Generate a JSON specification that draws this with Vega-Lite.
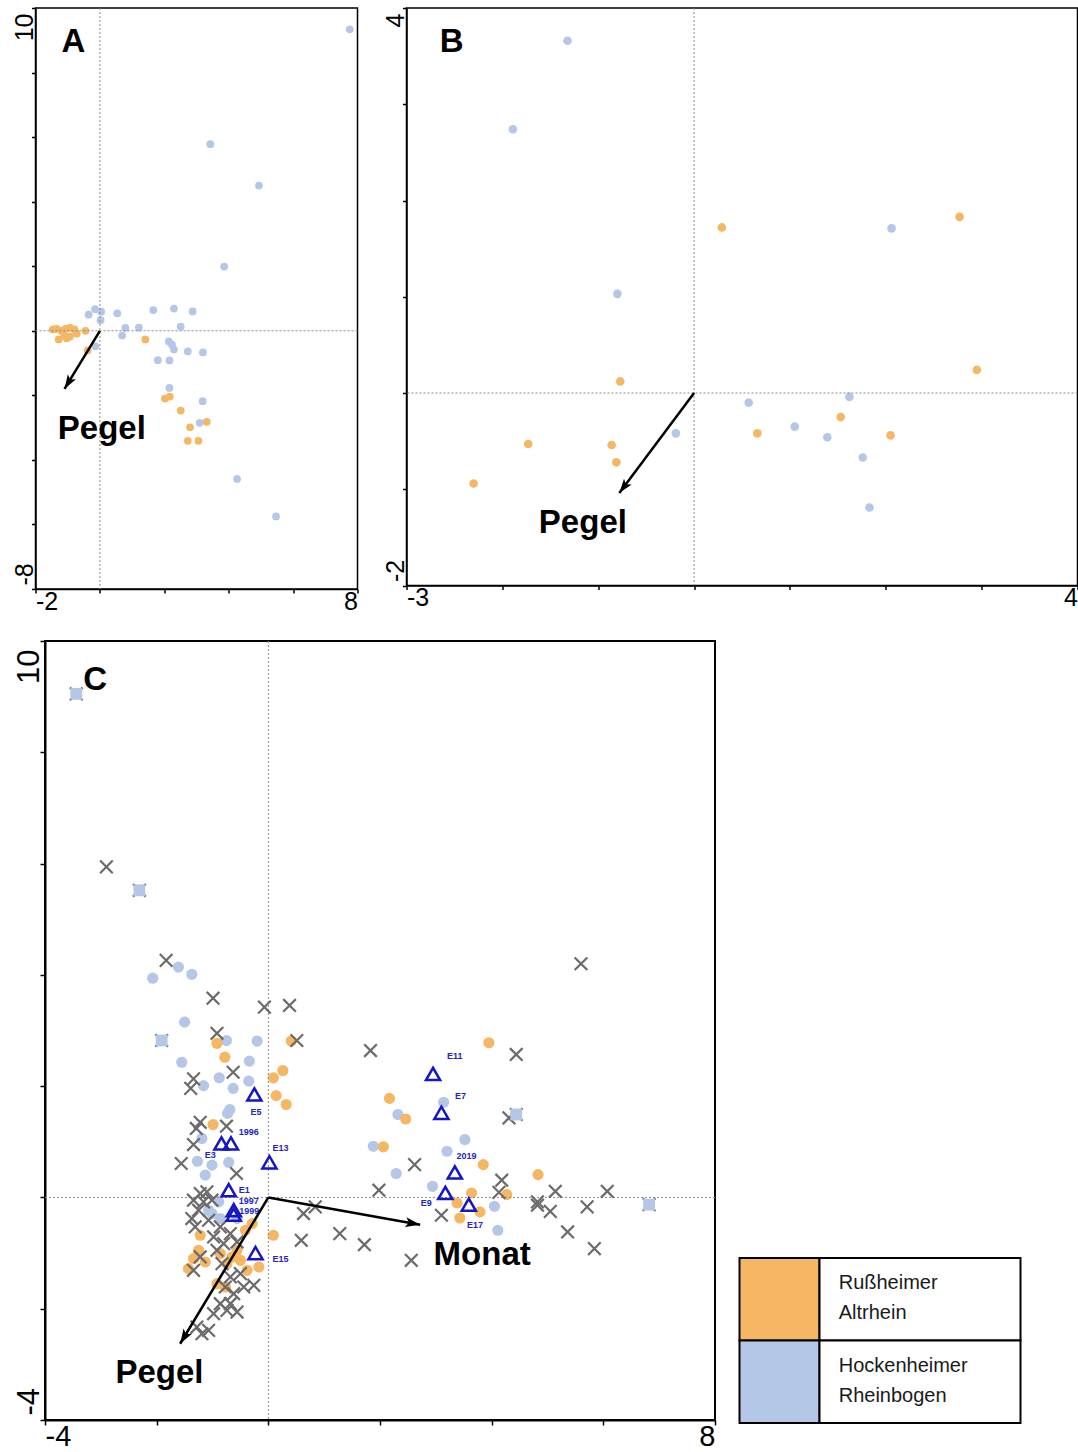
{
  "$schema": "https://vega.github.io/schema/vega-lite/v6.json",
  "padding": {"left": -12.5, "top": 6, "right": 0, "bottom": 0},
  "background": "white",
  "config": {
    "font": "Liberation Sans",
    "view": {"stroke": "black", "strokeWidth": 1.5},
    "axis": {"grid": false, "domainColor": "black", "domainWidth": 1.5, "tickColor": "black", "tickWidth": 1.5, "labelColor": "black", "labelFont": "Liberation Sans", "labelOverlap": false, "labelBound": false}
  },
  "datasets": {
    "A": [
      {"x":7.76,"y":9.34,"s":"H"},{"x":3.43,"y":5.78,"s":"H"},{"x":4.94,"y":4.5,"s":"H"},{"x":3.86,"y":1.99,"s":"H"},{"x":-0.15,"y":0.67,"s":"H"},{"x":-0.35,"y":0.5,"s":"H"},{"x":0.04,"y":0.59,"s":"H"},{"x":0.02,"y":0.33,"s":"H"},{"x":0.54,"y":0.54,"s":"H"},{"x":0.79,"y":0.09,"s":"H"},{"x":0.69,"y":-0.15,"s":"H"},{"x":1.21,"y":0.1,"s":"H"},{"x":1.66,"y":0.64,"s":"H"},{"x":2.3,"y":0.69,"s":"H"},{"x":2.88,"y":0.6,"s":"H"},{"x":2.51,"y":0.13,"s":"H"},{"x":2.14,"y":-0.33,"s":"H"},{"x":2.24,"y":-0.43,"s":"H"},{"x":2.3,"y":-0.58,"s":"H"},{"x":2.73,"y":-0.64,"s":"H"},{"x":3.2,"y":-0.67,"s":"H"},{"x":1.8,"y":-0.91,"s":"H"},{"x":2.16,"y":-0.92,"s":"H"},{"x":2.16,"y":-1.77,"s":"H"},{"x":3.19,"y":-2.18,"s":"H"},{"x":3.1,"y":-2.85,"s":"H"},{"x":4.26,"y":-4.59,"s":"H"},{"x":5.47,"y":-5.75,"s":"H"},{"x":-0.14,"y":-0.48,"s":"H"},
      {"x":-1.46,"y":0.04,"s":"R"},{"x":-1.34,"y":0.06,"s":"R"},{"x":-1.2,"y":0.0,"s":"R"},{"x":-1.07,"y":0.06,"s":"R"},{"x":-0.93,"y":0.09,"s":"R"},{"x":-0.79,"y":0.04,"s":"R"},{"x":-0.72,"y":-0.09,"s":"R"},{"x":-0.93,"y":-0.18,"s":"R"},{"x":-1.1,"y":-0.15,"s":"R"},{"x":-1.28,"y":-0.27,"s":"R"},{"x":-1.03,"y":-0.23,"s":"R"},{"x":-0.45,"y":0.0,"s":"R"},{"x":-0.38,"y":-0.61,"s":"R"},{"x":1.41,"y":-0.27,"s":"R"},{"x":2.02,"y":-2.1,"s":"R"},{"x":2.17,"y":-2.04,"s":"R"},{"x":2.51,"y":-2.47,"s":"R"},{"x":2.8,"y":-2.99,"s":"R"},{"x":3.32,"y":-2.82,"s":"R"},{"x":2.73,"y":-3.41,"s":"R"},{"x":3.06,"y":-3.41,"s":"R"}
    ],
    "B": [
      {"x":-1.32,"y":3.66,"s":"H"},{"x":-1.89,"y":2.74,"s":"H"},{"x":-0.8,"y":1.03,"s":"H"},{"x":-0.19,"y":-0.42,"s":"H"},{"x":0.57,"y":-0.1,"s":"H"},{"x":1.05,"y":-0.35,"s":"H"},{"x":1.39,"y":-0.46,"s":"H"},{"x":1.62,"y":-0.04,"s":"H"},{"x":1.76,"y":-0.67,"s":"H"},{"x":1.83,"y":-1.19,"s":"H"},{"x":2.06,"y":1.71,"s":"H"},
      {"x":0.29,"y":1.72,"s":"R"},{"x":2.77,"y":1.83,"s":"R"},{"x":2.95,"y":0.24,"s":"R"},{"x":-0.77,"y":0.12,"s":"R"},{"x":-1.73,"y":-0.53,"s":"R"},{"x":-0.86,"y":-0.54,"s":"R"},{"x":-0.81,"y":-0.72,"s":"R"},{"x":-2.3,"y":-0.94,"s":"R"},{"x":0.66,"y":-0.42,"s":"R"},{"x":1.53,"y":-0.25,"s":"R"},{"x":2.05,"y":-0.44,"s":"R"}
    ],
    "Csites": [
      {"x":-1.61,"y":4.14,"s":"H"},{"x":-2.07,"y":3.94,"s":"H"},{"x":-1.37,"y":4.01,"s":"H"},{"x":-1.5,"y":3.15,"s":"H"},{"x":-0.75,"y":2.82,"s":"H"},{"x":-0.2,"y":2.81,"s":"H"},{"x":-1.55,"y":2.43,"s":"H"},{"x":-0.34,"y":2.45,"s":"H"},{"x":-0.88,"y":2.15,"s":"H"},{"x":-1.16,"y":2.01,"s":"H"},{"x":-0.63,"y":1.96,"s":"H"},{"x":-0.35,"y":2.09,"s":"H"},{"x":-0.69,"y":1.58,"s":"H"},{"x":-0.73,"y":1.51,"s":"H"},{"x":-1.19,"y":1.06,"s":"H"},{"x":-1.27,"y":0.65,"s":"H"},{"x":-1.01,"y":0.58,"s":"H"},{"x":-0.71,"y":0.63,"s":"H"},{"x":-1.13,"y":0.4,"s":"H"},{"x":-0.89,"y":-0.08,"s":"H"},{"x":-1.01,"y":-0.29,"s":"H"},{"x":-0.86,"y":-0.38,"s":"H"},{"x":-1.07,"y":-0.23,"s":"H"},{"x":-0.56,"y":-0.38,"s":"H"},
      {"x":3.14,"y":1.71,"s":"H"},{"x":2.32,"y":1.49,"s":"H"},{"x":3.52,"y":1.04,"s":"H"},{"x":1.88,"y":0.92,"s":"H"},{"x":3.2,"y":0.83,"s":"H"},{"x":2.29,"y":0.43,"s":"H"},{"x":2.94,"y":0.2,"s":"H"},{"x":4.05,"y":-0.16,"s":"H"},{"x":4.11,"y":-0.59,"s":"H"},
      {"x":-0.92,"y":2.77,"s":"R"},{"x":0.41,"y":2.81,"s":"R"},{"x":-0.78,"y":2.52,"s":"R"},{"x":0.26,"y":2.28,"s":"R"},{"x":0.09,"y":2.15,"s":"R"},{"x":0.14,"y":1.83,"s":"R"},{"x":0.32,"y":1.67,"s":"R"},{"x":-0.99,"y":1.31,"s":"R"},
      {"x":-1.22,"y":-0.68,"s":"R"},{"x":-1.25,"y":-0.95,"s":"R"},{"x":-1.34,"y":-1.1,"s":"R"},{"x":-1.13,"y":-1.16,"s":"R"},{"x":-1.43,"y":-1.28,"s":"R"},{"x":-0.86,"y":-1.01,"s":"R"},{"x":-0.92,"y":-1.55,"s":"R"},{"x":-0.77,"y":-1.61,"s":"R"},{"x":-0.5,"y":-1.13,"s":"R"},{"x":-0.38,"y":-1.31,"s":"R"},{"x":-0.41,"y":-0.59,"s":"R"},{"x":-0.29,"y":-0.47,"s":"R"},{"x":0.09,"y":-0.68,"s":"R"},{"x":-0.17,"y":-1.25,"s":"R"},{"x":-0.65,"y":-1.07,"s":"R"},{"x":-0.56,"y":-0.95,"s":"R"},{"x":-0.74,"y":-1.19,"s":"R"},
      {"x":3.95,"y":2.78,"s":"R"},{"x":2.17,"y":1.78,"s":"R"},{"x":2.46,"y":1.41,"s":"R"},{"x":2.06,"y":0.91,"s":"R"},{"x":3.85,"y":0.59,"s":"R"},{"x":4.83,"y":0.41,"s":"R"},{"x":3.64,"y":0.08,"s":"R"},{"x":4.27,"y":0.05,"s":"R"},{"x":3.38,"y":-0.1,"s":"R"},{"x":3.79,"y":-0.26,"s":"R"},{"x":3.43,"y":-0.37,"s":"R"}
    ],
    "Csquares": [
      {"x":-3.44,"y":9.05,"s":"H"},{"x":-2.31,"y":5.52,"s":"H"},{"x":-1.91,"y":2.82,"s":"H"},{"x":4.44,"y":1.49,"s":"H"},{"x":6.82,"y":-0.13,"s":"H"}
    ],
    "Cspecies": [
      {"x":-2.9,"y":5.94},{"x":-1.83,"y":4.26},{"x":-0.99,"y":3.58},{"x":-0.07,"y":3.42},{"x":0.38,"y":3.45},{"x":-1.91,"y":2.82},{"x":-0.92,"y":2.95},{"x":0.51,"y":2.82},{"x":-0.63,"y":2.25},{"x":-1.34,"y":2.13},{"x":-1.39,"y":1.96},{"x":-1.22,"y":1.35},{"x":-1.29,"y":1.24},{"x":-0.75,"y":1.28},{"x":-1.34,"y":0.95},{"x":-1.56,"y":0.61},{"x":-0.57,"y":0.43},
      {"x":-1.22,"y":0.07},{"x":-1.1,"y":0.1},{"x":-1.34,"y":-0.05},{"x":-1.16,"y":-0.08},{"x":-1.01,"y":-0.05},{"x":-1.25,"y":-0.23},{"x":-1.37,"y":-0.38},{"x":-1.07,"y":-0.41},{"x":-1.31,"y":-0.53},{"x":-0.86,"y":-0.53},{"x":-0.98,"y":-0.71},{"x":-0.68,"y":-0.65},{"x":-0.8,"y":-0.83},{"x":-0.56,"y":-0.8},{"x":-0.92,"y":-0.95},{"x":-1.22,"y":-1.07},{"x":-1.34,"y":-1.31},{"x":-0.83,"y":-1.19},{"x":-0.68,"y":-1.43},{"x":-0.5,"y":-1.37},{"x":-0.44,"y":-1.61},{"x":-0.77,"y":-1.61},{"x":-0.62,"y":-1.73},{"x":-0.26,"y":-1.58},{"x":-0.86,"y":-1.91},{"x":-0.68,"y":-1.91},{"x":-0.56,"y":-2.06},{"x":-0.98,"y":-2.09},{"x":-0.74,"y":-2.03},{"x":-1.28,"y":-2.33},{"x":-1.07,"y":-2.39},{"x":-1.19,"y":-2.45},
      {"x":0.63,"y":-0.29},{"x":0.84,"y":-0.17},{"x":0.59,"y":-0.77},{"x":1.28,"y":-0.65},{"x":1.72,"y":-0.85},
      {"x":1.83,"y":2.64},{"x":4.44,"y":2.57},{"x":4.31,"y":1.43},{"x":2.62,"y":0.59},{"x":4.18,"y":0.31},{"x":1.98,"y":0.13},{"x":4.13,"y":0.09},{"x":5.14,"y":0.11},{"x":6.07,"y":0.11},{"x":4.82,"y":-0.08},{"x":4.82,"y":-0.14},{"x":5.05,"y":-0.25},{"x":5.71,"y":-0.17},{"x":6.82,"y":-0.13},{"x":3.1,"y":-0.32},{"x":5.36,"y":-0.62},{"x":5.84,"y":-0.92},{"x":2.56,"y":-1.13},{"x":5.6,"y":4.2},{"x":-3.44,"y":9.05},{"x":-2.31,"y":5.52},{"x":4.44,"y":1.49}
    ],
    "Cenv": [
      {"name":"E5","x":-0.25,"y":1.85},{"name":"E3","x":-0.84,"y":0.97},{"name":"1996","x":-0.67,"y":0.97},{"name":"E13","x":0.02,"y":0.63},{"name":"E1","x":-0.71,"y":0.13},{"name":"1997","x":-0.62,"y":-0.23},{"name":"1999","x":-0.62,"y":-0.31},{"name":"E15","x":-0.23,"y":-1.0},{"name":"E11","x":2.95,"y":2.22},{"name":"E7","x":3.1,"y":1.52},{"name":"2019","x":3.34,"y":0.45},{"name":"E9","x":3.17,"y":0.08},{"name":"E17","x":3.59,"y":-0.13}
    ],
    "Cenvlab": [
      {"name":"E5","x":-0.22,"y":1.53},{"name":"E3","x":-1.04,"y":0.77},{"name":"1996","x":-0.35,"y":1.17},{"name":"E13","x":0.22,"y":0.89},{"name":"E1","x":-0.43,"y":0.13},{"name":"1997","x":-0.35,"y":-0.07},{"name":"1999","x":-0.34,"y":-0.25},{"name":"E15","x":0.22,"y":-1.1},{"name":"E11","x":3.34,"y":2.55},{"name":"E7","x":3.44,"y":1.83},{"name":"2019","x":3.55,"y":0.74},{"name":"E9","x":2.83,"y":-0.1},{"name":"E17","x":3.7,"y":-0.5}
    ],
    "vectors": [
      {"p":"A","name":"Pegel","x":-1.1,"y":-1.8},{"p":"B","name":"Pegel","x":-0.78,"y":-1.04},{"p":"C","name":"Pegel","x":-1.58,"y":-2.63},{"p":"C","name":"Monat","x":2.72,"y":-0.49}
    ],
    "texts": [
      {"p":"A","t":"A","x":-0.82,"y":8.65},{"p":"A","t":"Pegel","x":0.06,"y":-3.34},{"p":"B","t":"B","x":-2.53,"y":3.54},{"p":"B","t":"Pegel","x":-1.16,"y":-1.45},{"p":"C","t":"C","x":-3.1,"y":9.12},{"p":"C","t":"Pegel","x":-1.95,"y":-3.34},{"p":"C","t":"Monat","x":3.83,"y":-1.21}
    ],
    "legend": [
      {"s":"R","label":"Rußheimer Altrhein"},{"s":"H","label":"Hockenheimer Rheinbogen"}
    ]
  },
  "spacing": 24,
  "vconcat": [
    {
      "spacing": 23,
      "hconcat": [
        {"width": 1, "height": 1, "data": {"values": [{"z": 0}]}, "mark": {"type": "point", "opacity": 0, "size": 0, "strokeWidth": 0}, "encoding": {}, "view": {"stroke": null}},
        {
          "width": 322, "height": 581,
          "layer": [
            {"data": {"name": "A"}, "mark": {"type": "circle", "size": 60, "opacity": 1},
             "encoding": {
               "x": {"field": "x", "type": "quantitative", "title": null, "scale": {"domain": [-2, 8], "nice": false, "zero": false},
                     "axis": {"values": [-2, 0, 2, 4, 6, 8], "labelExpr": "datum.value == -2 || datum.value == 8 ? '' + datum.value : ''", "labelFontSize": 25, "tickSize": 4, "labelPadding": -4, "labelBaseline": "top", "labelFlush": true}},
               "y": {"field": "y", "type": "quantitative", "title": null, "scale": {"domain": [-8, 10], "nice": false, "zero": false},
                     "axis": {"values": [-8, -6, -4, -2, 0, 2, 4, 6, 8, 10], "labelExpr": "datum.value == -8 || datum.value == 10 ? '' + datum.value : ''", "labelAngle": 270, "labelFontSize": 25, "tickSize": 4, "labelPadding": -1, "labelBaseline": "alphabetic", "labelFlush": false,
                              "labelAlign": {"condition": {"test": "datum.value == 10", "value": "right"}, "value": "left"},
                              "labelOffset": {"condition": {"test": "datum.value == 10", "value": 5}, "value": -4}}},
               "color": {"field": "s", "type": "nominal", "scale": {"domain": ["R", "H"], "range": ["#F5B764", "#B4C7E7"]}, "legend": null}
             }},
            {"data": {"values": [{"z": 0}]}, "mark": {"type": "rule", "color": "#8a8a8a", "strokeDash": [2, 2], "strokeWidth": 1}, "encoding": {"x": {"field": "z", "type": "quantitative", "title": null}}},
            {"data": {"values": [{"z": 0}]}, "mark": {"type": "rule", "color": "#8a8a8a", "strokeDash": [2, 2], "strokeWidth": 1}, "encoding": {"y": {"field": "z", "type": "quantitative", "title": null}}},
            {"data": {"name": "vectors"}, "transform": [{"filter": "datum.p == 'A'"}], "mark": {"type": "rule", "color": "black", "strokeWidth": 2.5},
             "encoding": {"x": {"field": "x", "type": "quantitative", "title": null}, "y": {"field": "y", "type": "quantitative", "title": null}, "x2": {"datum": 0}, "y2": {"datum": 0}}},
            {"data": {"name": "vectors"}, "transform": [{"filter": "datum.p == 'A'"}], "mark": {"type": "point", "shape": "M0,0L-0.6,1.8L0,1.4L0.6,1.8Z", "filled": true, "color": "black", "opacity": 1, "size": 250, "angle": 211.4},
             "encoding": {"x": {"field": "x", "type": "quantitative", "title": null}, "y": {"field": "y", "type": "quantitative", "title": null}}},
            {"data": {"name": "texts"}, "transform": [{"filter": "datum.p == 'A'"}], "mark": {"type": "text", "fontSize": 33, "fontWeight": "bold", "align": "center", "baseline": "alphabetic", "color": "black"},
             "encoding": {"x": {"field": "x", "type": "quantitative", "title": null}, "y": {"field": "y", "type": "quantitative", "title": null}, "text": {"field": "t", "type": "nominal"}}}
          ]
        },
        {
          "width": 671, "height": 577.5,
          "layer": [
            {"data": {"name": "B"}, "mark": {"type": "circle", "size": 75, "opacity": 1},
             "encoding": {
               "x": {"field": "x", "type": "quantitative", "title": null, "scale": {"domain": [-3, 4], "nice": false, "zero": false},
                     "axis": {"values": [-3, -2, -1, 0, 1, 2, 3, 4], "labelExpr": "datum.value == -3 || datum.value == 4 ? '' + datum.value : ''", "labelFontSize": 25, "tickSize": 4, "labelPadding": -4, "labelBaseline": "top", "labelFlush": true}},
               "y": {"field": "y", "type": "quantitative", "title": null, "scale": {"domain": [-2, 4], "nice": false, "zero": false},
                     "axis": {"values": [-2, -1, 0, 1, 2, 3, 4], "labelExpr": "datum.value == -2 || datum.value == 4 ? '' + datum.value : ''", "labelAngle": 270, "labelFontSize": 25, "tickSize": 4, "labelPadding": -1, "labelBaseline": "alphabetic", "labelFlush": false,
                              "labelAlign": {"condition": {"test": "datum.value == 4", "value": "right"}, "value": "left"},
                              "labelOffset": {"condition": {"test": "datum.value == 4", "value": 5}, "value": -4}}},
               "color": {"field": "s", "type": "nominal", "scale": {"domain": ["R", "H"], "range": ["#F5B764", "#B4C7E7"]}, "legend": null}
             }},
            {"data": {"values": [{"z": 0}]}, "mark": {"type": "rule", "color": "#8a8a8a", "strokeDash": [2, 2], "strokeWidth": 1}, "encoding": {"x": {"field": "z", "type": "quantitative", "title": null}}},
            {"data": {"values": [{"z": 0}]}, "mark": {"type": "rule", "color": "#8a8a8a", "strokeDash": [2, 2], "strokeWidth": 1}, "encoding": {"y": {"field": "z", "type": "quantitative", "title": null}}},
            {"data": {"name": "vectors"}, "transform": [{"filter": "datum.p == 'B'"}], "mark": {"type": "rule", "color": "black", "strokeWidth": 2.5},
             "encoding": {"x": {"field": "x", "type": "quantitative", "title": null}, "y": {"field": "y", "type": "quantitative", "title": null}, "x2": {"datum": 0}, "y2": {"datum": 0}}},
            {"data": {"name": "vectors"}, "transform": [{"filter": "datum.p == 'B'"}], "mark": {"type": "point", "shape": "M0,0L-0.6,1.8L0,1.4L0.6,1.8Z", "filled": true, "color": "black", "opacity": 1, "size": 250, "angle": 216.8},
             "encoding": {"x": {"field": "x", "type": "quantitative", "title": null}, "y": {"field": "y", "type": "quantitative", "title": null}}},
            {"data": {"name": "texts"}, "transform": [{"filter": "datum.p == 'B'"}], "mark": {"type": "text", "fontSize": 33, "fontWeight": "bold", "align": "center", "baseline": "alphabetic", "color": "black"},
             "encoding": {"x": {"field": "x", "type": "quantitative", "title": null}, "y": {"field": "y", "type": "quantitative", "title": null}, "text": {"field": "t", "type": "nominal"}}}
          ]
        }
      ]
    },
    {
      "spacing": 21.5,
      "hconcat": [
        {"width": 3, "height": 1, "data": {"values": [{"z": 0}]}, "mark": {"type": "point", "opacity": 0, "size": 0, "strokeWidth": 0}, "encoding": {}, "view": {"stroke": null}},
        {
          "width": 670, "height": 779,
          "view": {"stroke": "black", "strokeWidth": 2},
          "layer": [
            {"data": {"name": "Csites"}, "mark": {"type": "circle", "size": 125, "opacity": 1},
             "encoding": {
               "x": {"field": "x", "type": "quantitative", "title": null, "scale": {"domain": [-4, 8], "nice": false, "zero": false},
                     "axis": {"values": [-4, -2, 0, 2, 4, 6, 8], "labelExpr": "datum.value == -4 || datum.value == 8 ? '' + datum.value : ''", "labelFontSize": 29, "tickSize": 5, "labelPadding": -3, "labelBaseline": "top", "labelFlush": true, "domainWidth": 2}},
               "y": {"field": "y", "type": "quantitative", "title": null, "scale": {"domain": [-4, 10], "nice": false, "zero": false},
                     "axis": {"values": [-4, -2, 0, 2, 4, 6, 8, 10], "labelExpr": "datum.value == -4 || datum.value == 10 ? '' + datum.value : ''", "labelAngle": 270, "labelFontSize": 31, "tickSize": 5, "labelPadding": 1.5, "labelBaseline": "alphabetic", "labelFlush": false, "domainWidth": 2,
                              "labelAlign": {"condition": {"test": "datum.value == 10", "value": "right"}, "value": "left"},
                              "labelOffset": {"condition": {"test": "datum.value == 10", "value": 8}, "value": -5}}},
               "color": {"field": "s", "type": "nominal", "scale": {"domain": ["R", "H"], "range": ["#F5B764", "#B4C7E7"]}, "legend": null}
             }},
            {"data": {"values": [{"z": 0}]}, "mark": {"type": "rule", "color": "#8a8a8a", "strokeDash": [2, 2], "strokeWidth": 1}, "encoding": {"x": {"field": "z", "type": "quantitative", "title": null}}},
            {"data": {"values": [{"z": 0}]}, "mark": {"type": "rule", "color": "#8a8a8a", "strokeDash": [2, 2], "strokeWidth": 1}, "encoding": {"y": {"field": "z", "type": "quantitative", "title": null}}},
            {"data": {"name": "Cspecies"}, "mark": {"type": "point", "shape": "M-1,-1L1,1M-1,1L1,-1", "filled": false, "color": "#6b6b6b", "strokeWidth": 2.2, "size": 160, "opacity": 1},
             "encoding": {"x": {"field": "x", "type": "quantitative", "title": null}, "y": {"field": "y", "type": "quantitative", "title": null}}},
            {"data": {"name": "Csquares"}, "mark": {"type": "square", "size": 140, "opacity": 1, "color": "#B4C7E7"},
             "encoding": {"x": {"field": "x", "type": "quantitative", "title": null}, "y": {"field": "y", "type": "quantitative", "title": null}}},
            {"data": {"name": "Cenv"}, "mark": {"type": "point", "shape": "triangle-up", "filled": false, "color": "#1414C8", "strokeWidth": 2.5, "size": 200, "opacity": 1},
             "encoding": {"x": {"field": "x", "type": "quantitative", "title": null}, "y": {"field": "y", "type": "quantitative", "title": null}}},
            {"data": {"name": "Cenvlab"}, "mark": {"type": "text", "fontSize": 9, "fontWeight": "bold", "color": "#2424C8", "align": "center", "baseline": "middle"},
             "encoding": {"x": {"field": "x", "type": "quantitative", "title": null}, "y": {"field": "y", "type": "quantitative", "title": null}, "text": {"field": "name", "type": "nominal"}}},
            {"data": {"name": "vectors"}, "transform": [{"filter": "datum.p == 'C'"}], "mark": {"type": "rule", "color": "black", "strokeWidth": 2.5},
             "encoding": {"x": {"field": "x", "type": "quantitative", "title": null}, "y": {"field": "y", "type": "quantitative", "title": null}, "x2": {"datum": 0}, "y2": {"datum": 0}}},
            {"data": {"name": "vectors"}, "transform": [{"filter": "datum.p == 'C' && datum.name == 'Pegel'"}], "mark": {"type": "point", "shape": "M0,0L-0.6,1.8L0,1.4L0.6,1.8Z", "filled": true, "color": "black", "opacity": 1, "size": 270, "angle": 211.1},
             "encoding": {"x": {"field": "x", "type": "quantitative", "title": null}, "y": {"field": "y", "type": "quantitative", "title": null}}},
            {"data": {"name": "vectors"}, "transform": [{"filter": "datum.p == 'C' && datum.name == 'Monat'"}], "mark": {"type": "point", "shape": "M0,0L-0.6,1.8L0,1.4L0.6,1.8Z", "filled": true, "color": "black", "opacity": 1, "size": 270, "angle": 100.2},
             "encoding": {"x": {"field": "x", "type": "quantitative", "title": null}, "y": {"field": "y", "type": "quantitative", "title": null}}},
            {"data": {"name": "texts"}, "transform": [{"filter": "datum.p == 'C'"}], "mark": {"type": "text", "fontSize": 33, "fontWeight": "bold", "align": "center", "baseline": "alphabetic", "color": "black"},
             "encoding": {"x": {"field": "x", "type": "quantitative", "title": null}, "y": {"field": "y", "type": "quantitative", "title": null}, "text": {"field": "t", "type": "nominal"}}}
          ]
        },
        {
          "spacing": 0,
          "vconcat": [
            {"width": 281, "height": 616, "data": {"values": [{"z": 0}]}, "mark": {"type": "point", "opacity": 0, "size": 0, "strokeWidth": 0}, "encoding": {}, "view": {"stroke": null}},
            {
              "width": 281, "height": 165,
              "data": {"name": "legend"},
              "view": {"stroke": null},
              "layer": [
                {"mark": {"type": "rect", "stroke": "black", "strokeWidth": 2},
                 "encoding": {
                   "y": {"field": "label", "type": "nominal", "sort": null, "scale": {"paddingInner": 0, "paddingOuter": 0}, "axis": null},
                   "x": {"datum": 0, "type": "quantitative", "scale": {"domain": [0, 3.5125], "nice": false, "zero": false}, "axis": null},
                   "x2": {"datum": 1},
                   "color": {"field": "s", "type": "nominal", "scale": {"domain": ["R", "H"], "range": ["#F5B764", "#B4C7E7"]}, "legend": null}
                 }},
                {"mark": {"type": "rect", "fill": "white", "stroke": "black", "strokeWidth": 2},
                 "encoding": {"y": {"field": "label", "type": "nominal", "sort": null}, "x": {"datum": 1, "type": "quantitative"}, "x2": {"datum": 3.5125}}},
                {"mark": {"type": "text", "align": "left", "baseline": "middle", "dy": -16, "fontSize": 20, "lineHeight": 30, "lineBreak": " ", "color": "#1a1a1a"},
                 "encoding": {"y": {"field": "label", "type": "nominal", "sort": null}, "x": {"datum": 1.24, "type": "quantitative"}, "text": {"field": "label", "type": "nominal"}}}
              ]
            }
          ]
        }
      ]
    }
  ]
}
